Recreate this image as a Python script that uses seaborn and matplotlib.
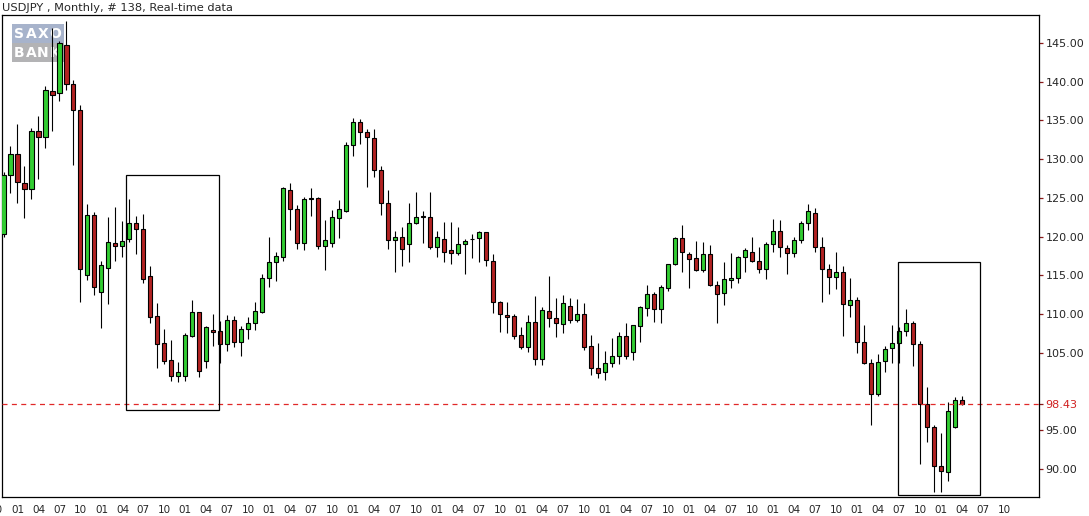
import pandas as pd
import seaborn as sns
import matplotlib.pyplot as plt
from matplotlib.patches import Rectangle

# USDJPY monthly candles, Nov 1997 .. Apr 2009
opens = [120.4, 127.9, 130.7, 126.9, 126.1, 133.6, 132.9, 138.85, 138.5, 144.8,
         139.7, 136.4, 115.1, 122.8, 112.8, 115.9, 119.2, 118.75, 119.65, 121.8,
         120.98, 114.91, 109.75, 106.26, 104.07, 102.05, 102.05, 107.21, 110.22, 103.98,
         107.9, 107.81, 106.09, 109.19, 106.44, 108.11, 108.8, 110.22, 114.61, 116.68,
         117.41, 126.02, 123.52, 119.22, 124.95, 124.94, 118.83, 119.13, 122.36, 123.35,
         131.83, 134.76, 133.47, 132.69, 128.6, 124.3, 119.56, 119.9, 119.05, 121.72,
         122.62, 122.58, 118.7, 119.65, 118.23, 117.93, 119.0, 119.7, 119.78, 120.55,
         116.85, 111.51, 109.88, 109.75, 107.3, 105.7, 108.93, 104.15, 110.4, 109.53,
         108.72, 111.04, 109.23, 109.96, 105.87, 102.99, 102.57, 103.64, 104.59, 107.17,
         105.06, 108.5, 110.83, 112.55, 110.61, 113.41, 116.42, 119.78, 117.76, 117.2,
         115.69, 117.76, 113.76, 112.68, 114.36, 114.62, 117.41, 118.06, 116.9, 115.78,
         119.0, 120.73, 118.49, 117.84, 119.56, 121.72, 123.01, 118.62, 115.78, 114.74,
         115.39, 111.17, 111.82, 106.35, 103.64, 99.64, 103.9, 105.58, 106.22, 107.86,
         108.8, 106.1, 98.35, 95.38, 90.43, 89.65, 95.38, 98.91]
highs = [128.3, 131.7, 134.5, 129.1, 134.0, 135.6, 139.45, 146.9, 145.3, 147.9,
         140.2, 137.0, 124.2, 123.2, 116.85, 122.5, 123.8, 122.0, 124.9, 122.66,
         122.96, 116.2, 111.4, 108.07, 106.65, 103.85, 107.5, 111.8, 110.3, 108.5,
         109.96, 109.1, 109.88, 109.75, 108.5, 109.66, 111.5, 115.17, 119.99, 117.97,
         126.4, 126.88, 124.04, 125.07, 126.23, 125.16, 122.15, 123.44, 124.73, 132.17,
         135.27, 135.14, 133.9, 133.85, 129.16, 126.02, 120.77, 121.2, 124.3, 125.72,
         123.31, 125.72, 120.72, 121.84, 121.84, 121.2, 119.65, 120.34, 120.72, 120.62,
         117.75, 111.69, 111.51, 110.0, 108.37, 109.88, 112.33, 110.95, 114.91, 112.12,
         112.46, 112.12, 111.9, 111.38, 107.3, 106.22, 105.23, 106.95, 107.73, 108.8,
         108.6, 111.05, 113.76, 112.89, 113.76, 116.5, 120.0, 121.5, 118.06, 119.44,
         119.27, 118.92, 114.31, 116.77, 117.93, 117.5, 118.49, 120.0, 118.62, 119.35,
         122.27, 122.15, 118.92, 119.91, 122.02, 124.17, 123.65, 120.0, 116.42, 117.97,
         116.21, 114.61, 112.16, 108.59, 104.16, 104.8, 105.9, 108.59, 108.38, 110.66,
         109.15, 106.53, 100.54, 95.68, 94.6, 98.69, 99.34, 99.47]
lows = [119.9, 125.7, 124.3, 122.4, 124.8, 127.4, 131.4, 133.6, 137.55, 138.9,
        129.2, 111.6, 114.4, 112.5, 108.2, 111.25, 116.8, 117.4, 119.35, 117.7,
        114.05, 108.9, 103.1, 103.6, 101.4, 101.2, 101.4, 107.08, 101.9, 103.1,
        105.92, 103.72, 105.27, 105.79, 104.63, 106.74, 108.0, 110.1, 113.54, 114.31,
        116.9, 120.85, 118.4, 118.27, 122.66, 118.4, 115.69, 118.7, 119.78, 123.22,
        130.45, 131.92, 126.36, 127.65, 122.83, 118.36, 115.47, 116.25, 116.77, 121.59,
        119.13, 118.36, 117.41, 116.77, 116.42, 117.63, 115.13, 117.2, 116.68, 116.21,
        110.09, 107.73, 107.51, 106.74, 105.45, 105.14, 103.42, 103.42, 108.37, 107.0,
        107.51, 108.8, 109.02, 105.36, 102.13, 101.79, 101.49, 103.21, 103.55, 104.16,
        104.07, 106.44, 109.8, 109.02, 108.8, 113.02, 116.4, 115.48, 113.41, 115.61,
        115.48, 113.63, 108.89, 111.17, 113.41, 113.97, 115.48, 116.68, 115.35, 114.49,
        117.97, 117.41, 115.13, 117.41, 119.13, 120.86, 117.97, 111.6, 112.55, 113.2,
        107.21, 109.58, 104.93, 103.5, 95.68, 99.47, 102.5, 103.73, 103.73, 107.2,
        103.34, 90.64, 93.44, 86.99, 86.99, 88.49, 95.3, 98.3]
closes = [128.0, 130.7, 127.1, 126.1, 133.6, 132.9, 138.9, 138.3, 145.0, 139.7,
          136.4, 115.8, 122.8, 113.5, 116.3, 119.3, 118.75, 119.4, 121.8, 120.94,
          114.57, 109.66, 106.09, 103.98, 102.05, 102.52, 107.3, 110.22, 102.69, 108.33,
          107.7, 106.09, 109.19, 106.44, 108.03, 108.8, 110.4, 114.61, 116.68, 117.5,
          126.23, 123.52, 119.22, 124.86, 124.8, 118.83, 119.52, 122.49, 123.57, 131.83,
          134.76, 133.47, 132.82, 128.6, 124.3, 119.56, 119.9, 118.4, 121.72, 122.58,
          122.55, 118.7, 119.9, 118.06, 117.93, 119.0, 119.39, 119.76, 120.55, 116.98,
          111.51, 109.96, 109.58, 107.17, 105.7, 109.02, 104.15, 110.52, 109.45, 108.8,
          111.38, 109.23, 109.96, 105.7, 102.99, 102.43, 103.64, 104.59, 107.17, 104.63,
          108.59, 110.96, 112.55, 110.61, 113.45, 116.42, 119.78, 117.97, 117.11, 115.69,
          117.76, 113.76, 112.59, 114.49, 114.62, 117.41, 118.27, 116.9, 115.78, 119.05,
          120.73, 118.62, 117.84, 119.56, 121.72, 123.31, 118.62, 115.78, 114.83, 115.39,
          111.26, 111.82, 106.35, 103.64, 99.64, 103.77, 105.45, 106.22, 107.86, 108.8,
          106.1, 98.35, 95.38, 90.43, 89.78, 97.49, 98.91, 98.43]

last_price = 98.43
price_ticks = [90, 95, 105, 110, 115, 120, 125, 130, 135, 140, 145]
# highlighted areas: (first bar, last bar, low price, high price)
boxes = [(17.47, 30.76, 97.61, 127.96), (127.9, 139.6, 86.64, 116.72)]

df = pd.DataFrame({"open": opens, "high": highs, "low": lows, "close": closes})
df["date"] = pd.date_range("1997-11-01", periods=len(df), freq="MS")
df["x"] = range(len(df))
df["up"] = df["close"] >= df["open"]
df["bottom"] = df[["open", "close"]].min(axis=1)
df["body"] = (df["close"] - df["open"]).abs()

sns.set_style("white")
plt.rcParams["font.family"] = ["DejaVu Sans"]

fig = plt.figure(figsize=(10.89, 5.16), dpi=100)
ax = fig.add_axes([1.5 / 1089, 1 - 496.7 / 516, 1037.8 / 1089, 481.7 / 516])

# logo behind the candles
ax.add_patch(Rectangle((0.0104, 0.9414), 0.0501, 0.0393, transform=ax.transAxes,
                       color="#a7b3cb", zorder=0.5, lw=0))
ax.add_patch(Rectangle((0.0104, 0.9018), 0.0501, 0.0396, transform=ax.transAxes,
                       color="#b3b3b5", zorder=0.5, lw=0))
for i, (a, b) in enumerate(zip("SAXO", "BANK")):
    xf = (17.5 + i * 12.0) / 1037.8
    ax.text(xf, 0.9605, a, transform=ax.transAxes, color="white", fontsize=10,
            fontweight="bold", ha="center", va="center", zorder=0.6)
    ax.text(xf, 0.9215, b, transform=ax.transAxes, color="white", fontsize=10,
            fontweight="bold", ha="center", va="center", zorder=0.6)

# wicks and bodies
ax.vlines(df["x"], df["low"], df["high"], color="black", lw=0.8, zorder=2)
colors = ["#32cd32" if u else "#b22222" for u in df["up"]]
ax.bar(df["x"], df["body"], bottom=df["bottom"], width=0.58, color=colors,
       edgecolor="black", linewidth=0.8, zorder=3)

ax.axhline(last_price, color="#e02828", lw=0.9, ls=(0, (4, 3.5)), zorder=4)

for x0, x1, y0, y1 in boxes:
    ax.add_patch(Rectangle((x0, y0), x1 - x0, y1 - y0, fill=False,
                           edgecolor="black", lw=0.9, zorder=5))

# axes cosmetics
for s in ax.spines.values():
    s.set_color("black")
    s.set_linewidth(0.9)
ax.yaxis.tick_right()
yt = sorted(price_ticks + [last_price])
ax.set_yticks(yt)
ax.set_yticklabels([f"{v:.2f}" for v in yt])
for lab, v in zip(ax.get_yticklabels(), yt):
    if v == last_price:
        lab.set_color("#d02020")
ax.tick_params(axis="y", direction="out", length=3, width=0.9, color="#8b1a1a",
               labelsize=8, pad=1.5)

# quarterly time labels, up to Oct 2009
all_months = pd.date_range("1997-11-01", periods=144, freq="MS")
xt = [i for i, d in enumerate(all_months) if d.month in (1, 4, 7, 10)]
xl = [all_months[i].strftime("%m") for i in xt]
ax.set_xticks(xt)
ax.set_xticklabels(xl)
ax.tick_params(axis="x", direction="out", length=4, width=0.9, color="#8b1a1a",
               labelsize=7.5, pad=2)
ax.text(-1, -0.018, "10", transform=ax.get_xaxis_transform(), ha="center", va="top",
        fontsize=7.5, clip_on=False)
ax.grid(False)

ax.set_xlim(-0.286, 148.04)
ax.set_ylim(86.42, 148.62)

fig.text(2 / 1089, 1 - 8 / 516, "USDJPY , Monthly, # 138, Real-time data",
         fontsize=8.2, va="center", ha="left")

fig.savefig("out.png", dpi=100, facecolor="white")
